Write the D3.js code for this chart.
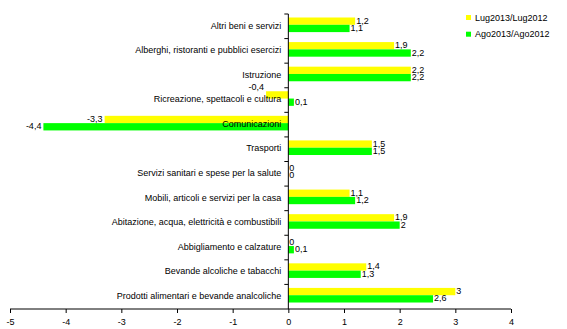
<!DOCTYPE html>
<html><head><meta charset="utf-8">
<script src="https://cdn.jsdelivr.net/npm/d3@7/dist/d3.min.js"></script>
<style>body{margin:0;background:#fff}svg{display:block}text{font-family:"Liberation Sans",Arial,sans-serif}</style>
</head><body><svg id="c" width="567" height="329"></svg>
<script>
const categories = ["Altri beni e servizi","Alberghi, ristoranti e pubblici esercizi","Istruzione","Ricreazione, spettacoli e cultura","Comunicazioni","Trasporti","Servizi sanitari e spese per la salute","Mobili, articoli e servizi per la casa","Abitazione, acqua, elettricità e combustibili","Abbigliamento e calzature","Bevande alcoliche e tabacchi","Prodotti alimentari e bevande analcoliche"];
const seriesNames = ["Lug2013/Lug2012","Ago2013/Ago2012"];
const lug = [1.2,1.9,2.2,-0.4,-3.3,1.5,0,1.1,1.9,0,1.4,3];
const ago = [1.1,2.2,2.2,0.1,-4.4,1.5,0,1.2,2,0.1,1.3,2.6];
const xTicks = [-5,-4,-3,-2,-1,0,1,2,3,4];
const colors = ["#FFFF00","#00FF00"];

const svg = d3.select("#c");
const x = d3.scaleLinear().domain([-5,4]).range([10,511]);
const y = d3.scaleBand().domain(categories).range([14,309]);
const barH = 7.3, barOff = 3.5;
const series = [lug, ago];
const fmt = v => String(v).replace(".", ",");
const barY = (d, si) => y(d) + barOff + si * barH;

// bars
series.forEach((vals, si) => {
  svg.append("g").selectAll("rect").data(categories).join("rect")
    .attr("x", (d,i) => x(Math.min(0, vals[i])))
    .attr("width", (d,i) => Math.abs(x(vals[i]) - x(0)))
    .attr("y", d => barY(d, si))
    .attr("height", barH)
    .attr("fill", colors[si]);
});

// category labels
const catLabels = svg.append("g").selectAll("text").data(categories).join("text")
  .attr("x", x(0) - 7).attr("y", d => y(d) + 14.5)
  .attr("text-anchor","end").attr("font-size", 9).attr("fill","#000")
  .text(d => d);
const catStart = [];
catLabels.each(function(d,i){ catStart[i] = x(0) - 7 - this.getComputedTextLength(); });

// value labels
series.forEach((vals, si) => {
  svg.append("g").selectAll("text").data(categories).join("text")
    .attr("x", (d,i) => vals[i] < 0 ? x(vals[i]) - 2 : x(vals[i]) + 1)
    .attr("y", (d,i) => {
      let yy = barY(d, si) + barH/2 + 2.5;
      if (vals[i] < 0 && x(vals[i]) - 2 > catStart[i]) yy -= 7.5;
      return yy;
    })
    .attr("text-anchor", (d,i) => vals[i] < 0 ? "end" : "start")
    .attr("font-size", 9).attr("fill","#000")
    .text((d,i) => fmt(vals[i]));
});

// x axis
const xa = svg.append("g").attr("transform","translate(0,309)")
  .call(d3.axisBottom(x).tickValues(xTicks).tickSize(4).tickPadding(6).tickFormat(d => String(d)));
xa.select(".domain").attr("stroke","#000").attr("d","M10,0H511");
xa.selectAll("text").attr("font-size",9).attr("font-family","Liberation Sans, Arial, sans-serif");

// y axis at zero
svg.append("line").attr("x1",x(0)).attr("x2",x(0)).attr("y1",14).attr("y2",309).attr("stroke","#000");
svg.append("g").selectAll("line").data(categories).join("line")
  .attr("x1", x(0)-4).attr("x2", x(0)).attr("y1", d => y(d)).attr("y2", d => y(d)).attr("stroke","#000");

// legend
const lg = svg.append("g");
seriesNames.forEach((n, i) => {
  lg.append("rect").attr("x",466).attr("y",15 + i*16.7).attr("width",5).attr("height",5).attr("fill",colors[i]);
  lg.append("text").attr("x",475).attr("y",20.5 + i*16.7).attr("font-size",9).attr("fill","#000").text(n);
});
</script></body></html>
